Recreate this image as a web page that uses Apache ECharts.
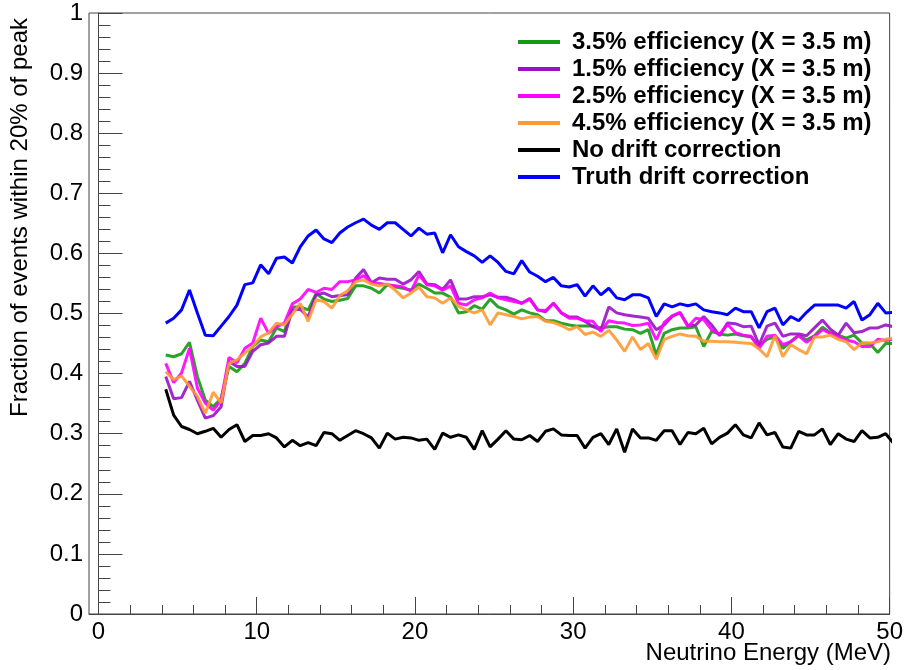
<!DOCTYPE html>
<html>
<head>
<meta charset="utf-8">
<script src="https://cdn.jsdelivr.net/npm/echarts@6.0.0/dist/echarts.min.js"></script>
<style>
  html, body { margin: 0; padding: 0; background: #fff; }
  #chart { width: 906px; height: 670px; }
</style>
</head>
<body>
<div id="chart"></div>
<script>
'use strict';

///// data /////

// bin centres (MeV)
const energy = [
  4.25, 4.75, 5.25, 5.75, 6.25, 6.75, 7.25, 7.75, 8.25, 8.75,
  9.25, 9.75, 10.25, 10.75, 11.25, 11.75, 12.25, 12.75, 13.25, 13.75,
  14.25, 14.75, 15.25, 15.75, 16.25, 16.75, 17.25, 17.75, 18.25, 18.75,
  19.25, 19.75, 20.25, 20.75, 21.25, 21.75, 22.25, 22.75, 23.25, 23.75,
  24.25, 24.75, 25.25, 25.75, 26.25, 26.75, 27.25, 27.75, 28.25, 28.75,
  29.25, 29.75, 30.25, 30.75, 31.25, 31.75, 32.25, 32.75, 33.25, 33.75,
  34.25, 34.75, 35.25, 35.75, 36.25, 36.75, 37.25, 37.75, 38.25, 38.75,
  39.25, 39.75, 40.25, 40.75, 41.25, 41.75, 42.25, 42.75, 43.25, 43.75,
  44.25, 44.75, 45.25, 45.75, 46.25, 46.75, 47.25, 47.75, 48.25, 48.75,
  49.25, 49.75, 50.25
];

const eff35 = [
  0.431, 0.428, 0.433, 0.452, 0.395, 0.356, 0.345, 0.359, 0.412, 0.403,
  0.417, 0.445, 0.456, 0.453, 0.476, 0.470, 0.511, 0.511, 0.506, 0.533,
  0.524, 0.520, 0.522, 0.525, 0.546, 0.546, 0.542, 0.534, 0.548, 0.544,
  0.542, 0.539, 0.549, 0.542, 0.534, 0.534, 0.527, 0.501, 0.503, 0.513,
  0.507, 0.524, 0.511, 0.506, 0.499, 0.506, 0.501, 0.498, 0.488, 0.488,
  0.484, 0.481, 0.479, 0.479, 0.479, 0.476, 0.478, 0.478, 0.474, 0.473,
  0.467, 0.473, 0.431, 0.467, 0.473, 0.476, 0.476, 0.478, 0.445, 0.470,
  0.466, 0.464, 0.466, 0.463, 0.461, 0.446, 0.457, 0.461, 0.442, 0.453,
  0.464, 0.456, 0.463, 0.477, 0.468, 0.464, 0.459, 0.464, 0.451, 0.450,
  0.435, 0.450, 0.450
];

const eff15 = [
  0.395, 0.358, 0.360, 0.387, 0.356, 0.326, 0.330, 0.345, 0.420, 0.412,
  0.412, 0.437, 0.448, 0.451, 0.462, 0.462, 0.506, 0.507, 0.494, 0.531,
  0.534, 0.528, 0.530, 0.531, 0.559, 0.573, 0.551, 0.559, 0.557, 0.557,
  0.549, 0.556, 0.570, 0.549, 0.548, 0.540, 0.556, 0.524, 0.524, 0.528,
  0.528, 0.531, 0.527, 0.527, 0.523, 0.517, 0.525, 0.506, 0.503, 0.517,
  0.501, 0.494, 0.494, 0.487, 0.478, 0.473, 0.511, 0.501, 0.498, 0.496,
  0.494, 0.492, 0.473, 0.481, 0.495, 0.501, 0.480, 0.481, 0.495, 0.481,
  0.463, 0.484, 0.483, 0.478, 0.479, 0.448, 0.479, 0.484, 0.462, 0.466,
  0.466, 0.463, 0.476, 0.489, 0.474, 0.464, 0.484, 0.468, 0.470, 0.476,
  0.476, 0.481, 0.478
];

const eff25 = [
  0.417, 0.385, 0.401, 0.442, 0.376, 0.351, 0.339, 0.356, 0.427, 0.418,
  0.442, 0.451, 0.492, 0.467, 0.478, 0.484, 0.516, 0.524, 0.540, 0.535,
  0.542, 0.540, 0.553, 0.553, 0.556, 0.563, 0.551, 0.550, 0.548, 0.546,
  0.544, 0.537, 0.564, 0.548, 0.546, 0.539, 0.546, 0.517, 0.514, 0.523,
  0.526, 0.534, 0.526, 0.523, 0.520, 0.517, 0.524, 0.506, 0.505, 0.517,
  0.501, 0.492, 0.492, 0.488, 0.487, 0.470, 0.488, 0.485, 0.484, 0.480,
  0.481, 0.484, 0.456, 0.485, 0.496, 0.502, 0.478, 0.492, 0.490, 0.473,
  0.465, 0.482, 0.468, 0.464, 0.462, 0.442, 0.462, 0.464, 0.448, 0.453,
  0.463, 0.452, 0.462, 0.473, 0.467, 0.461, 0.456, 0.453, 0.445, 0.445,
  0.457, 0.455, 0.457
];

const eff45 = [
  0.403, 0.390, 0.396, 0.379, 0.362, 0.334, 0.369, 0.351, 0.417, 0.423,
  0.434, 0.445, 0.461, 0.468, 0.484, 0.481, 0.499, 0.517, 0.487, 0.523,
  0.520, 0.509, 0.530, 0.538, 0.553, 0.556, 0.549, 0.546, 0.549, 0.539,
  0.526, 0.534, 0.544, 0.528, 0.526, 0.517, 0.526, 0.512, 0.506, 0.501,
  0.506, 0.481, 0.501, 0.498, 0.495, 0.491, 0.494, 0.495, 0.487, 0.485,
  0.480, 0.473, 0.478, 0.465, 0.469, 0.462, 0.472, 0.456, 0.437, 0.461,
  0.440, 0.450, 0.424, 0.457, 0.462, 0.466, 0.463, 0.462, 0.454, 0.454,
  0.453, 0.453, 0.452, 0.451, 0.450, 0.441, 0.428, 0.463, 0.428, 0.448,
  0.440, 0.433, 0.461, 0.461, 0.464, 0.457, 0.453, 0.440, 0.451, 0.451,
  0.453, 0.457, 0.459
];

const noCorr = [
  0.374, 0.331, 0.312, 0.307, 0.300, 0.304, 0.309, 0.294, 0.307, 0.315,
  0.287, 0.297, 0.297, 0.300, 0.293, 0.278, 0.289, 0.280, 0.285, 0.280,
  0.302, 0.300, 0.289, 0.297, 0.305, 0.300, 0.293, 0.276, 0.301, 0.291,
  0.294, 0.293, 0.289, 0.291, 0.274, 0.301, 0.294, 0.298, 0.294, 0.274,
  0.305, 0.278, 0.291, 0.305, 0.291, 0.290, 0.297, 0.287, 0.304, 0.308,
  0.298, 0.297, 0.297, 0.276, 0.294, 0.300, 0.282, 0.308, 0.269, 0.308,
  0.293, 0.293, 0.289, 0.305, 0.305, 0.282, 0.302, 0.300, 0.309, 0.283,
  0.294, 0.301, 0.315, 0.298, 0.293, 0.318, 0.298, 0.302, 0.278, 0.276,
  0.304, 0.298, 0.298, 0.308, 0.282, 0.300, 0.291, 0.287, 0.305, 0.293,
  0.294, 0.300, 0.284
];

const truthCorr = [
  0.484, 0.492, 0.506, 0.539, 0.501, 0.464, 0.463, 0.479, 0.495, 0.514,
  0.548, 0.551, 0.581, 0.566, 0.592, 0.594, 0.584, 0.611, 0.629, 0.639,
  0.624, 0.618, 0.634, 0.644, 0.651, 0.657, 0.647, 0.640, 0.651, 0.651,
  0.640, 0.629, 0.642, 0.632, 0.634, 0.601, 0.631, 0.611, 0.603, 0.596,
  0.585, 0.596, 0.585, 0.570, 0.566, 0.588, 0.569, 0.562, 0.553, 0.560,
  0.546, 0.544, 0.548, 0.529, 0.546, 0.531, 0.542, 0.526, 0.523, 0.531,
  0.531, 0.526, 0.495, 0.516, 0.511, 0.516, 0.513, 0.516, 0.506, 0.503,
  0.501, 0.498, 0.509, 0.503, 0.503, 0.476, 0.503, 0.509, 0.481, 0.495,
  0.488, 0.502, 0.514, 0.514, 0.514, 0.514, 0.509, 0.520, 0.489, 0.498,
  0.517, 0.501, 0.502
];

const seriesNames = [
  '3.5% efficiency (X = 3.5 m)',
  '1.5% efficiency (X = 3.5 m)',
  '2.5% efficiency (X = 3.5 m)',
  '4.5% efficiency (X = 3.5 m)',
  'No drift correction',
  'Truth drift correction'
];
const seriesValues = [eff35, eff15, eff25, eff45, noCorr, truthCorr];
const seriesColors = ['#129a12', '#9a12c8', '#ff00ff', '#ff9933', '#000000', '#0000ff'];

const xMajorTicks = [0, 10, 20, 30, 40, 50];
const xMinorTicks = [2, 4, 6, 8, 12, 14, 16, 18, 22, 24, 26, 28, 32, 34, 36, 38, 42, 44, 46, 48];

///// chart /////

const FONT = '"Liberation Sans", Arial, Helvetica, sans-serif';
const AXIS_COLOR = '#444';

const chart = echarts.init(document.getElementById('chart'), null, { renderer: 'canvas' });

const xBase = {
  type: 'value',
  min: -0.6,
  max: 50,
  splitLine: { show: false },
  axisLine: { show: true, onZero: false, lineStyle: { color: AXIS_COLOR, width: 1 } }
};

const option = {
  animation: false,
  backgroundColor: '#fff',
  grid: {
    left: 89, right: 14, top: 13, bottom: 56,
    show: true, borderColor: AXIS_COLOR, borderWidth: 1, backgroundColor: 'transparent'
  },
  legend: {
    orient: 'vertical',
    left: 518,
    top: 30,
    padding: 0,
    itemGap: 3,
    itemWidth: 42,
    itemHeight: 4,
    icon: 'rect',
    data: seriesNames,
    textStyle: { fontFamily: FONT, fontWeight: 'bold', fontSize: 24, color: '#000', padding: [0, 0, 0, 7] }
  },
  xAxis: [
    Object.assign({}, xBase, {
      axisTick: { show: true, inside: true, length: 17, customValues: xMajorTicks, lineStyle: { color: AXIS_COLOR } },
      axisLabel: { show: true, customValues: xMajorTicks, margin: 6, fontFamily: FONT, fontSize: 24, color: '#000' }
    }),
    Object.assign({}, xBase, {
      position: 'bottom',
      axisLine: { show: false },
      axisTick: { show: true, inside: true, length: 9, customValues: xMinorTicks, lineStyle: { color: AXIS_COLOR } },
      axisLabel: { show: false }
    })
  ],
  yAxis: {
    type: 'value',
    min: 0,
    max: 1,
    interval: 0.1,
    splitLine: { show: false },
    axisLine: { show: true, lineStyle: { color: AXIS_COLOR, width: 1 } },
    axisTick: { show: true, inside: true, length: 24, lineStyle: { color: AXIS_COLOR } },
    minorTick: { show: true, splitNumber: 5, length: 12, lineStyle: { color: AXIS_COLOR } },
    axisLabel: { margin: 6, fontFamily: FONT, fontSize: 24, color: '#000' }
  },
  graphic: [
    {
      type: 'text',
      x: 8, y: 18,
      rotation: Math.PI / 2,
      style: {
        text: 'Fraction of events within 20% of peak',
        font: '24px ' + FONT,
        fill: '#000',
        align: 'right',
        verticalAlign: 'top'
      }
    },
    {
      type: 'text',
      x: 891, y: 641,
      style: {
        text: 'Neutrino Energy (MeV)',
        font: '24px ' + FONT,
        fill: '#000',
        align: 'right',
        verticalAlign: 'top'
      }
    }
  ],
  series: seriesNames.map((name, k) => ({
    name: name,
    type: 'line',
    xAxisIndex: 0,
    data: energy.map((e, i) => [e, seriesValues[k][i]]),
    showSymbol: false,
    symbol: 'none',
    clip: true,
    color: seriesColors[k],
    lineStyle: { width: 3, color: seriesColors[k], opacity: k < 4 ? 0.9 : 1 },
    z: k < 4 ? 2 + k : 6
  }))
};

chart.setOption(option);
</script>
</body>
</html>
